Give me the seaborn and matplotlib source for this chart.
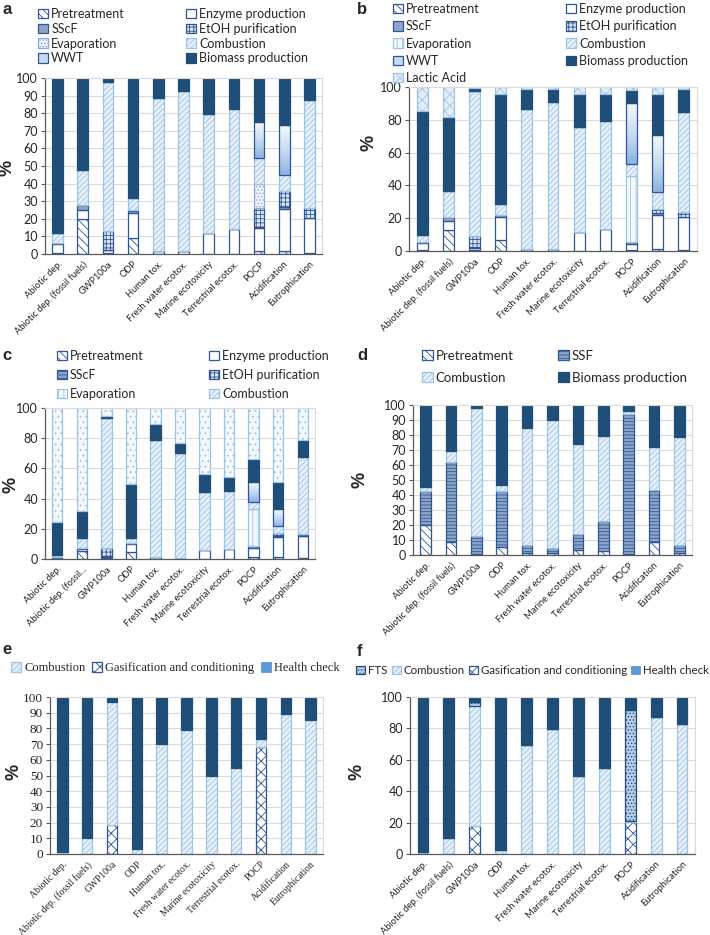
import numpy as np
import matplotlib
matplotlib.use("Agg")
import matplotlib.pyplot as plt
from matplotlib.patches import Patch
from matplotlib.colors import LinearSegmentedColormap
import seaborn as sns

sns.set_theme(style="white")
plt.rcParams['font.family'] = ['Lato', 'DejaVu Sans']
plt.rcParams['hatch.linewidth'] = 0.6

## categories
cats = ["Abiotic dep.", "Abiotic dep. (fossil fuels)", "GWP100a", "ODP", "Human tox.",
        "Fresh water ecotox.", "Marine ecotoxicity", "Terrestrial ecotox.", "POCP",
        "Acidification", "Eutrophication"]
cats_c = ["Abiotic dep.", "Abiotic dep. (fossil...", "GWP100a", "ODP", "Human tox.",
          "Fresh water ecotox.", "Marine ecotoxicity", "Terrestrial ecotox.", "POCP",
          "Acidification", "Eutrophication"]

## panel a  (bottom -> top)
a_pretreat = [0.5, 20, 0.5, 9, 0, 0, 0, 0, 1.5, 1.5, 0.5]
a_enzyme = [5, 5, 1.5, 14.5, 1.5, 1.5, 12, 14, 13.5, 24, 20]
a_sscf = [0.5, 3, 0.5, 1, 0, 0, 0, 0, 0.5, 1, 0]
a_etoh = [0, 0, 10.5, 0.5, 0, 0, 0, 0, 10.5, 9.5, 5.5]
a_evap = [0, 0, 0, 0, 0, 0, 0, 0, 14, 0, 0]
a_comb = [6, 20, 85, 7, 87, 91, 67.5, 68.5, 14.5, 9, 61.5]
a_wwt = [0, 0, 0, 0, 0, 0, 0, 0, 20.5, 28.5, 0]
a_biomass = [88, 52, 2, 68, 11.5, 7.5, 20.5, 17.5, 25, 26.5, 12.5]

## panel b
b_pretreat = [0.5, 13, 0.5, 7, 0, 0, 0, 0, 0.5, 1, 0.5]
b_enzyme = [4.5, 5, 1.5, 13.5, 1.5, 1.5, 11.5, 13.5, 4, 21, 20]
b_sscf = [0.5, 2.5, 0.5, 1.5, 0, 0, 0, 0, 1, 1, 0.5]
b_etoh = [0, 0, 6.5, 0, 0, 0, 0, 0, 0, 2.5, 2.5]
b_evap = [0, 0, 0, 0, 0, 0, 0, 0, 40.5, 0, 0]
b_comb = [4.5, 16, 88.5, 6.5, 85, 89.5, 64, 65.5, 7, 10.5, 61.5]
b_wwt = [0, 0, 0, 0, 0, 0, 0, 0, 37.5, 35, 0]
b_biomass = [75.5, 45, 2, 67.5, 12, 7.5, 20.5, 17, 7.5, 24.5, 13.5]
b_lactic = [14.5, 18.5, 0.5, 4, 1.5, 1.5, 4, 4, 2, 4.5, 1.5]

## panel c
c_pretreat = [0.5, 5.5, 0.5, 4.5, 0, 0, 0, 0, 1, 1, 0.5]
c_enzyme = [1, 1, 1, 5.5, 1.5, 0.5, 6, 6.5, 6.5, 13.5, 15]
c_sscf = [0, 0.5, 0.5, 0.5, 0, 0, 0, 0, 1, 1, 0]
c_etoh = [0, 0, 5, 0, 0, 0, 0, 0, 0, 1.5, 1]
c_evap = [0, 0, 0, 0, 0, 0, 0, 0, 24.5, 0, 0]
c_comb = [1, 7, 86.5, 3.5, 77, 70, 38.5, 38.5, 4.5, 5, 51]
c_wwt = [0, 0, 0, 0, 0, 0, 0, 0, 13.5, 11, 0]
c_biomass = [22, 17.5, 1, 35.5, 11, 6, 12, 9.5, 15, 18, 11]
c_other = [75.5, 68.5, 5.5, 50.5, 10.5, 23.5, 43.5, 45.5, 34, 49, 21.5]

## panel d
d_pretreat = [20, 8.5, 0.5, 5.5, 1.5, 1.5, 3.5, 3, 0.5, 8.5, 1.5]
d_ssf = [23, 53.5, 12.5, 37.5, 5, 3.5, 10.5, 20, 93.5, 35, 5]
d_comb = [2.5, 7.5, 85, 4, 78.5, 85, 60, 56.5, 2, 28.5, 72.5]
d_biomass = [54.5, 30.5, 2, 53, 15, 10, 26, 20.5, 4, 28, 21]

## panel e
e_gasif = [0, 0, 18.5, 0, 0, 0, 0, 0, 68, 0, 0]
e_comb = [1.5, 10, 78.5, 3, 70, 79, 50, 55, 5, 89, 85.5]
e_health = [0, 0, 0, 0, 0, 0, 0, 0, 0, 0, 0]
e_biomass = [98.5, 90, 3, 97, 30, 21, 50, 45, 27, 11, 14.5]

## panel f
f_gasif = [0, 0, 18, 0, 0, 0, 0, 0, 20.5, 0, 0]
f_comb = [1.5, 10, 76, 2.5, 69.5, 79.5, 50, 54.5, 0.5, 87, 83]
f_health = [0, 0, 0, 0, 0, 0, 0, 0, 0, 0, 0]
f_fts = [0, 0, 3, 0, 0, 0, 0, 0, 71, 0, 0]
f_biomass = [98.5, 90, 3, 97.5, 30.5, 20.5, 50, 45.5, 8, 13, 17]

NAVY = '#1F4E79'
MID = '#2F5597'
LIGHT = '#9DC3E6'
wwt_cmap = LinearSegmentedColormap.from_list('wwt', ['#8DB4E2', '#C9DCF1', '#F7FAFE'])

# face, edge, hatch, linewidth
STY = {
    'Pretreatment': ('white', MID, '\\\\\\\\', 0.9),
    'Enzyme production': ('white', MID, None, 0.9),
    'SScF': ('#8EA6C6', MID, None, 0.9),
    'SScF_c': ('#8EA6C6', MID, '-----', 0.9),
    'SSF': ('#8EA6C6', MID, '-----', 0.9),
    'EtOH purification': ('#DCE6F2', MID, '++++', 0.9),
    'Evaporation_a': ('#EEF3FA', '#8FAADC', '.....', 0.9),
    'Evaporation': ('#F3F8FD', LIGHT, '|||', 0.9),
    'Combustion': ('#E6F0FA', LIGHT, '//////', 0.9),
    'WWT': ('#C6DAF0', MID, None, 0.9),
    'Biomass production': (NAVY, NAVY, None, 0.9),
    'Lactic Acid': ('#E3EEF9', LIGHT, 'xxx', 0.9),
    'Other': ('#F3F8FD', LIGHT, '...', 0.9),
    'Gasification and conditioning': ('white', MID, 'xxx', 0.9),
    'Health check': ('#5B9BD5', '#5B9BD5', None, 0.0),
    'FTS': ('#B9CDEA', NAVY, '.....', 0.9),
}


def patch(key):
    fc, ec, h, lw = STY[key]
    return Patch(facecolor=fc, edgecolor=ec, hatch=h, linewidth=max(lw, 0.6))


def stacked(ax, labels, layers, ystep, lab_xy, serif=False):
    bottom = np.zeros(len(labels))
    for key, vals in layers:
        fc, ec, h, lw = STY[key]
        n0 = len(ax.patches)
        sns.barplot(x=labels, y=vals, order=labels, bottom=bottom, ax=ax, width=0.42,
                    color=fc, edgecolor=ec, hatch=h, linewidth=lw, saturation=1,
                    errorbar=None)
        if key == 'WWT':
            # gradient fill like the original
            for p in ax.patches[n0:]:
                if p.get_height() <= 0:
                    continue
                x0, y0 = p.get_x(), p.get_y()
                im = ax.imshow(np.linspace(0, 1, 64).reshape(-1, 1), cmap=wwt_cmap,
                               origin='lower', aspect='auto', interpolation='bicubic',
                               extent=(x0, x0 + p.get_width(), y0, y0 + p.get_height()),
                               zorder=p.get_zorder() - 0.05)
                im.set_clip_path(p)
                p.set_facecolor('none')
        bottom = bottom + np.array(vals)
    ax.set_xlim(-0.5, len(labels) - 0.5)
    ax.set_ylim(0, 100)
    ax.set_yticks(np.arange(0, 101, ystep))
    ax.yaxis.grid(True, color='#D9D9D9', linewidth=0.7)
    ax.set_axisbelow(True)
    fam = ['Liberation Serif'] if serif else ['Lato', 'DejaVu Sans']
    ax.set_xticks(range(len(labels)))
    ax.set_xticklabels(labels, rotation=45, ha='right', rotation_mode='anchor',
                       fontsize=6.9 if serif else 6.7, family=fam, color='#222222')
    ax.set_xticks(np.arange(-0.5, len(labels)), minor=True)
    ax.tick_params(axis='x', which='major', length=0, pad=4)
    ax.tick_params(axis='x', which='minor', length=3, direction='out', color='#595959', width=0.8)
    ax.tick_params(axis='y', length=3, direction='out', color='#595959', width=0.8,
                   labelsize=9 if not serif else 9.5, pad=2)
    for t in ax.get_yticklabels():
        t.set_family(fam)
    ax.tick_params(bottom=True, left=True)
    for s in ['left', 'bottom']:
        ax.spines[s].set_color('#595959')
        ax.spines[s].set_linewidth(0.9)
    for s in ['top', 'right']:
        ax.spines[s].set_color('#D9D9D9')
        ax.spines[s].set_linewidth(0.8)
    ax.set_ylabel('%', fontsize=13, fontweight='bold', family=['Liberation Sans'])
    ax.yaxis.set_label_coords(*lab_xy)


W, H = 710, 935
fig = plt.figure(figsize=(7.1, 9.35), dpi=100)


def axes_px(l, t, r, b):
    return fig.add_axes([l / W, 1 - b / H, (r - l) / W, (b - t) / H])


def legend_px(keys, names, x, y, fs, spacing, serif=False, ncol=1, colsp=0.8):
    fam = 'Liberation Serif' if serif else 'Lato'
    fig.legend([patch(k) for k in keys], names, loc='upper left',
               bbox_to_anchor=(x / W, 1 - y / H), frameon=False, ncol=ncol,
               handlelength=0.8, handleheight=0.8, handletextpad=0.25,
               labelspacing=spacing, borderpad=0, borderaxespad=0,
               columnspacing=colsp, prop={'family': fam, 'size': fs})


def panel_label(s, x, y):
    fig.text(x / W, 1 - y / H, s, fontsize=12, fontweight='bold',
             family='Liberation Sans', va='center', ha='left')


# ---- a ----
ax = axes_px(45, 78, 322, 254)
stacked(ax, cats, [('Pretreatment', a_pretreat), ('Enzyme production', a_enzyme),
                   ('SScF', a_sscf), ('EtOH purification', a_etoh),
                   ('Evaporation_a', a_evap), ('Combustion', a_comb), ('WWT', a_wwt),
                   ('Biomass production', a_biomass)], 10, (-0.105, 0.49))
panel_label('a', 3, 10)
legend_px(['Pretreatment', 'SScF', 'Evaporation_a', 'WWT'],
          ['Pretreatment', 'SScF', 'Evaporation', 'WWT'], 38, 8, 9, 0.22)
legend_px(['Enzyme production', 'EtOH purification', 'Combustion', 'Biomass production'],
          ['Enzyme production', 'EtOH purification', 'Combustion', 'Biomass production'],
          186, 8, 9, 0.22)

# ---- b ----
ax = axes_px(409, 87, 697, 251)
stacked(ax, cats, [('Pretreatment', b_pretreat), ('Enzyme production', b_enzyme),
                   ('SScF', b_sscf), ('EtOH purification', b_etoh),
                   ('Evaporation', b_evap), ('Combustion', b_comb), ('WWT', b_wwt),
                   ('Biomass production', b_biomass), ('Lactic Acid', b_lactic)],
        20, (-0.11, 0.66))
panel_label('b', 357, 10)
legend_px(['Pretreatment', 'SScF', 'Evaporation', 'WWT', 'Lactic Acid'],
          ['Pretreatment', 'SScF', 'Evaporation', 'WWT', 'Lactic Acid'], 393, 3, 9, 0.42)
legend_px(['Enzyme production', 'EtOH purification', 'Combustion', 'Biomass production'],
          ['Enzyme production', 'EtOH purification', 'Combustion', 'Biomass production'],
          566, 3, 9, 0.42)

# ---- c ----
ax = axes_px(45, 408, 315, 559)
stacked(ax, cats_c, [('Pretreatment', c_pretreat), ('Enzyme production', c_enzyme),
                     ('SScF_c', c_sscf), ('EtOH purification', c_etoh),
                     ('Evaporation', c_evap), ('Combustion', c_comb), ('WWT', c_wwt),
                     ('Biomass production', c_biomass), ('Other', c_other)],
        20, (-0.095, 0.49))
panel_label('c', 2, 356)
legend_px(['Pretreatment', 'SScF_c', 'Evaporation'],
          ['Pretreatment', 'SScF', 'Evaporation'], 57, 350, 9, 0.55)
legend_px(['Enzyme production', 'EtOH purification', 'Combustion'],
          ['Enzyme production', 'EtOH purification', 'Combustion'], 209, 350, 9, 0.55)

# ---- d ----
ax = axes_px(413, 405, 692, 555)
stacked(ax, cats, [('Pretreatment', d_pretreat), ('SSF', d_ssf),
                   ('Combustion', d_comb), ('Biomass production', d_biomass)],
        10, (-0.16, 0.5))
panel_label('d', 357, 355)
legend_px(['Pretreatment', 'Combustion'], ['Pretreatment', 'Combustion'],
          422, 350, 9.5, 0.75)
legend_px(['SSF', 'Biomass production'], ['SSF', 'Biomass production'],
          558, 350, 9.5, 0.75)

# ---- e ----
ax = axes_px(50, 697, 323, 854)
stacked(ax, cats, [('Gasification and conditioning', e_gasif), ('Combustion', e_comb),
                   ('Health check', e_health), ('Biomass production', e_biomass)],
        10, (-0.1, 0.52), serif=True)
panel_label('e', 2, 650)
legend_px(['Combustion', 'Gasification and conditioning', 'Health check'],
          ['Combustion', 'Gasification and conditioning', 'Health check'],
          11, 662, 9, 0.2, serif=True, ncol=3, colsp=0.55)

# ---- f ----
ax = axes_px(410, 697, 695, 854)
stacked(ax, cats, [('Gasification and conditioning', f_gasif), ('Combustion', f_comb),
                   ('Health check', f_health), ('FTS', f_fts),
                   ('Biomass production', f_biomass)], 20, (-0.155, 0.52))
panel_label('f', 357, 652)
legend_px(['FTS', 'Combustion', 'Gasification and conditioning', 'Health check'],
          ['FTS', 'Combustion', 'Gasification and conditioning', 'Health check'],
          356, 665, 8.3, 0.2, ncol=4, colsp=0.35)

fig.savefig('out.png', dpi=100)
